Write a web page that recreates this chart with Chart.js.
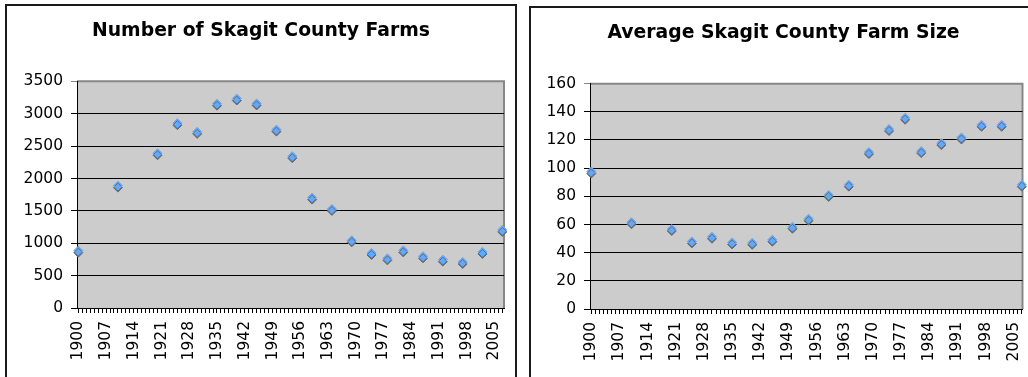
<!DOCTYPE html>
<html>
<head>
<meta charset="utf-8">
<script src="https://cdn.jsdelivr.net/npm/chart.js@4"></script>
<style>
  html, body { margin: 0; padding: 0; background: #fff; overflow: hidden; width: 1028px; height: 377px; }
  .frame { position: absolute; border: 2px solid #1a1a1a; box-sizing: border-box; }
  #frameFarms { left: 5px; top: 4px; width: 512px; height: 400px; }
  #frameSize { left: 529px; top: 6px; width: 520px; height: 400px; }
  canvas { position: absolute; top: 0; }
  #farmsChart { left: 0; }
  #sizeChart { left: 520px; }
</style>
</head>
<body>
<div class="frame" id="frameFarms"></div>
<div class="frame" id="frameSize"></div>
<canvas id="farmsChart" width="516" height="377"></canvas>
<canvas id="sizeChart" width="508" height="377"></canvas>
<script>
// Census years and the two series
const censusYears = [1900, 1910, 1920, 1925, 1930, 1935, 1940, 1945, 1950, 1954, 1959,
                     1964, 1969, 1974, 1978, 1982, 1987, 1992, 1997, 2002, 2007];
const farmCounts  = [886, 1890, 2390, 2855, 2720, 3155, 3235, 3160, 2755, 2345, 1705,
                     1530, 1045, 850, 767, 890, 798, 747, 711, 866, 1206];
const avgFarmSize = [97.6, 61.6, 56.8, 48.0, 51.3, 47.3, 47.0, 49.2, 58.4, 64.1, 81.0,
                     88.3, 111.4, 127.8, 135.8, 112.1, 117.8, 121.8, 130.8, 130.8, 88.3];

// Axis tick labels
const yearLabels = [1900, 1907, 1914, 1921, 1928, 1935, 1942, 1949, 1956, 1963, 1970,
                    1977, 1984, 1991, 1998, 2005];
const farmTicks = [0, 500, 1000, 1500, 2000, 2500, 3000, 3500];
const sizeTicks = [0, 20, 40, 60, 80, 100, 120, 140, 160];

const tickFont = { family: 'DejaVu Sans', size: 15.5 };
const titleFont = { family: 'DejaVu Sans', size: 18.8, weight: 'bold' };

// Gray plot background with a gray top/right frame
const plotFrame = {
  id: 'plotFrame',
  beforeDraw(chart) {
    const { ctx, chartArea: a } = chart;
    ctx.save();
    ctx.fillStyle = '#cccccc';
    ctx.fillRect(a.left, a.top, a.width, a.height);
    ctx.strokeStyle = '#878787';
    ctx.lineWidth = 2;
    ctx.beginPath();
    ctx.moveTo(a.left, a.top);
    ctx.lineTo(a.right, a.top);
    ctx.lineTo(a.right, a.bottom);
    ctx.stroke();
    ctx.restore();
  }
};

// Drop shadow under the diamond markers
const markerShadow = {
  id: 'markerShadow',
  beforeDatasetsDraw(chart) {
    const c = chart.ctx;
    c.save();
    c.shadowColor = '#6c6c6c';
    c.shadowOffsetX = 0;
    c.shadowOffsetY = 2;
    c.shadowBlur = 0;
  },
  afterDatasetsDraw(chart) { chart.ctx.restore(); }
};

function makeChart(id, title, values, yTicks, geom) {
  const yMax = yTicks[yTicks.length - 1];
  return new Chart(document.getElementById(id), {
    type: 'scatter',
    data: {
      datasets: [{
        data: censusYears.map((yr, i) => ({ x: yr, y: values[i] })),
        pointStyle: 'rectRot',
        pointRadius: 4.5,
        pointBorderWidth: 1,
        backgroundColor: '#62a9fd',
        borderColor: '#62a9fd',
        showLine: false,
        clip: false
      }]
    },
    options: {
      responsive: false,
      animation: false,
      devicePixelRatio: 1,
      layout: { padding: { left: geom.padLeft, right: geom.padRight, top: 0, bottom: 0 } },
      plugins: {
        legend: { display: false },
        tooltip: { enabled: false },
        title: {
          display: true,
          text: title,
          color: '#000',
          font: titleFont,
          padding: { top: geom.titleTop, bottom: geom.titleBottom }
        }
      },
      scales: {
        x: {
          type: 'linear',
          min: geom.xMin,
          max: geom.xMax,
          afterFit: s => { s.height = geom.xHeight; s.paddingLeft = 0; s.paddingRight = 0; },
          grid: { drawOnChartArea: false, drawTicks: true, tickLength: 5, color: '#000', lineWidth: 1 },
          border: { display: true, color: '#000', width: 1 },
          ticks: {
            stepSize: 1,
            autoSkip: false,
            includeBounds: false,
            minRotation: 90,
            maxRotation: 90,
            padding: 8,
            color: '#000',
            font: tickFont,
            callback: v => yearLabels.includes(v) ? String(v) : ''
          }
        },
        y: {
          min: 0,
          max: yMax,
          afterBuildTicks: s => { s.ticks = yTicks.map(v => ({ value: v })); },
          afterFit: s => { s.width = geom.yWidth; s.paddingTop = 0; s.paddingBottom = 0; },
          grid: {
            color: c => (c.tick && c.tick.value === yMax) ? '#878787' : '#000',
            lineWidth: 1,
            tickLength: 6
          },
          border: { display: true, color: '#000', width: 1 },
          ticks: { padding: 8, color: '#000', font: tickFont, callback: v => String(v) }
        }
      }
    },
    plugins: [plotFrame, markerShadow]
  });
}

makeChart('farmsChart', 'Number of Skagit County Farms', farmCounts, farmTicks, {
  padLeft: 18, padRight: 12, yWidth: 59, xHeight: 69,
  titleTop: 19.6, titleBottom: 39.2, xMin: 1899.67, xMax: 2007.43
});

makeChart('sizeChart', 'Average Skagit County Farm Size', avgFarmSize, sizeTicks, {
  padLeft: 24, padRight: 5, yWidth: 46, xHeight: 68,
  titleTop: 22.2, titleBottom: 38.9, xMin: 1899.68, xMax: 2007.17
});
</script>
</body>
</html>
